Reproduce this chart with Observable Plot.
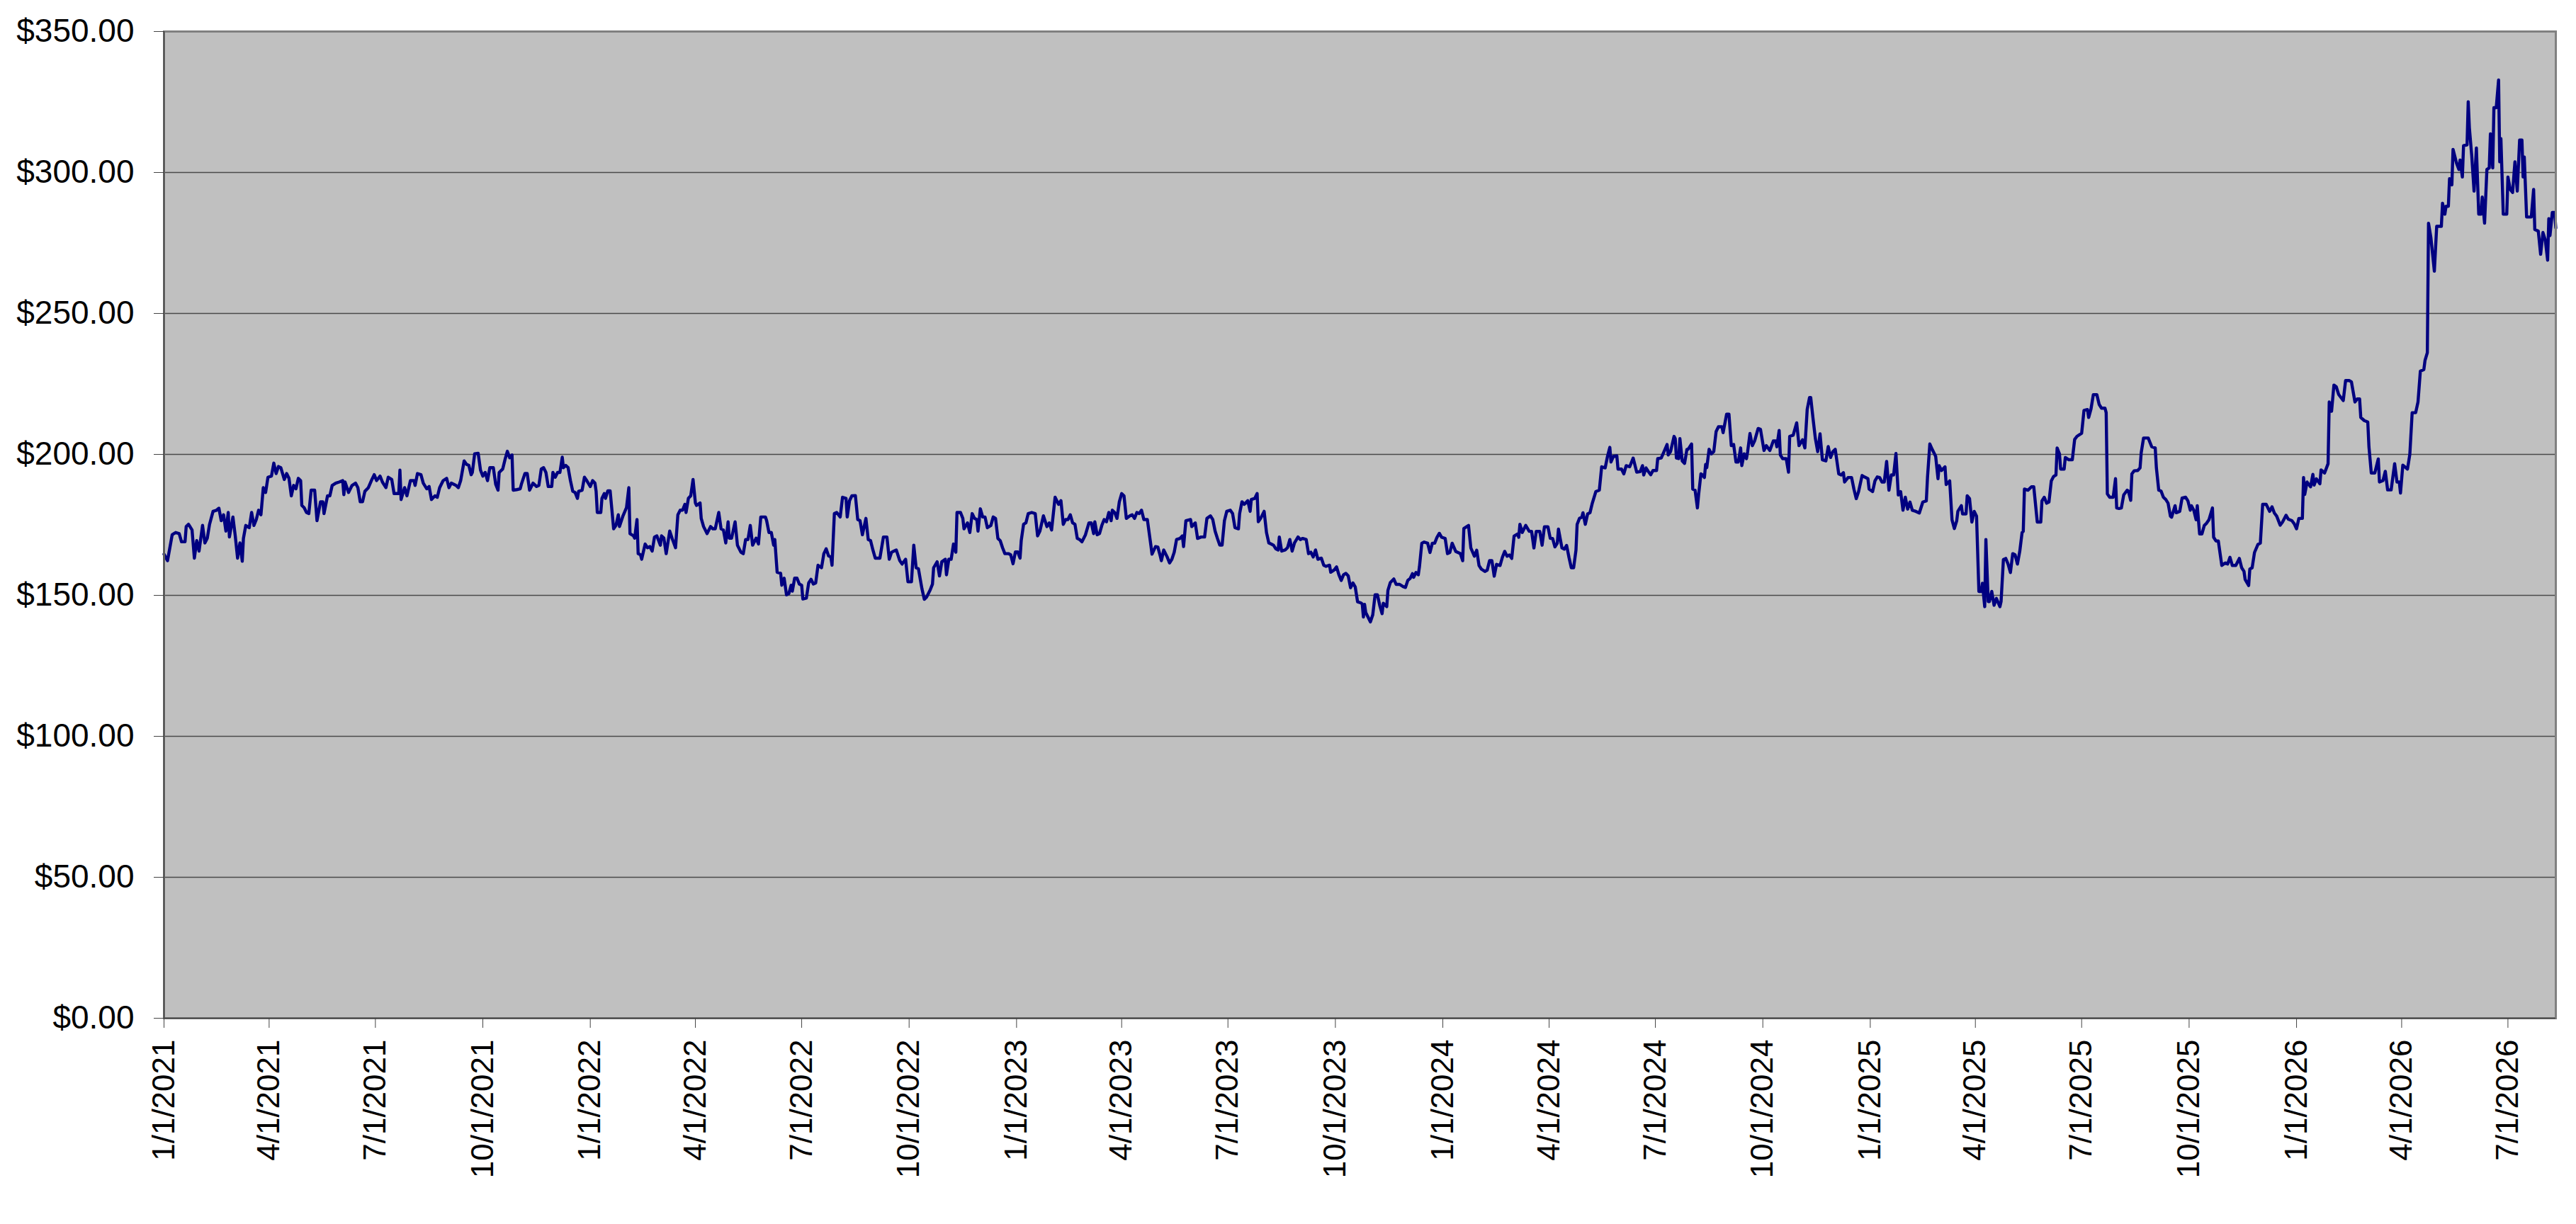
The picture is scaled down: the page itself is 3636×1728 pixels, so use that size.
<!DOCTYPE html>
<html>
<head>
<meta charset="utf-8">
<script src="https://cdn.jsdelivr.net/npm/d3@7"></script>
<script src="https://cdn.jsdelivr.net/npm/@observablehq/plot@0.6"></script>
<style>
  html, body { margin: 0; padding: 0; background: #ffffff; }
  #chart svg { display: block; }
</style>
</head>
<body>
<div id="chart"></div>
<script>
// Series start date; each value below is a day offset from this date.
const startDate = "2021-01-01";

const days = [
  0,3,7,10,13,15,18,19,21,24,26,28,30,33,35,37,39,42,45,47,49,51,53,55,56,59,61,63,65,67,68,70,73,75,77,79,81,83,85,87,89,92,94,96,98,100,
  103,105,107,109,111,113,115,117,118,120,122,124,126,129,130,131,134,136,137,140,142,144,147,150,153,154,155,158,161,164,166,168,170,172,175,178,180,182,185,187,190,192,195,197,201,202,203,206,208,211,214,215,217,220,222,225,227,229,232,234,236,239,242,244,246,250,252,
  254,257,259,261,263,264,266,269,271,273,275,277,279,282,284,286,287,290,292,294,296,298,299,302,305,306,309,311,313,316,319,321,323,325,327,329,332,333,335,337,339,341,342,344,346,348,350,352,354,355,358,360,362,365,367,369,370,371,374,375,377,378,380,382,385,387,389,390,393,396,398,399,
  402,403,405,406,408,409,412,414,416,418,420,422,425,426,428,430,433,435,438,440,442,444,446,447,449,451,453,455,456,459,460,462,465,468,470,472,475,477,479,481,483,484,486,489,491,494,496,498,500,502,504,507,509,511,515,
  516,518,520,522,523,525,528,529,531,533,535,537,538,540,542,544,546,547,550,552,554,556,558,560,563,565,567,569,571,572,574,576,579,581,584,585,587,589,592,594,596,598,601,603,605,607,609,613,616,619,621,623,625,627,630,632,635,637,640,642,644,646,649,651,653,656,658,659,662,664,666,669,670,672,674,676,678,679,682,684,685,688,690,692,694,696,697,699,701,703,705,708,710,712,714,716,718,720,723,725,727,729,731,733,734,736,738,740,743,746,748,750,753,756,758,760,763,766,768,
  770,772,774,776,778,780,782,784,786,789,792,794,796,797,799,801,803,805,807,809,811,812,814,816,818,820,822,824,827,829,831,833,835,837,839,842,845,846,849,851,853,854,856,859,861,863,865,867,870,872,873,875,879,880,883,885,888,891,893,896,898,900,902,904,906,908,910,913,915,917,920,921,923,925,928,930,931,934,936,937,939,942,944,946,948,950,952,954,955,957,960,962,964,966,968,971,973,975,978,980,982,984,986,988,991,993,995,998,999,1002,1004,1006,1008,1010,1012,1014,1016,1018,1020,1022,1025,1026,1027,
  1028,1029,1030,1033,1035,1037,1039,1041,1043,1044,1047,1048,1050,1053,1055,1058,1061,1063,1065,1067,1069,1070,1072,1074,1075,1077,1079,1082,1084,1086,1088,1090,1092,1094,1097,1099,1101,1103,1106,1108,1110,1112,1113,1117,1119,1122,1124,1126,1128,1131,1133,1135,1137,1139,1141,1144,1146,1148,1150,1152,1154,1156,1159,1160,1161,1163,1166,1169,1171,1173,1175,1178,1180,1182,1185,1187,1189,1191,1193,1194,1197,1199,1201,1203,1205,1207,1209,1210,1212,1214,1215,1217,1219,1221,1223,1226,1229,1231,1234,1236,1238,1239,1241,1244,1245,1248,1250,1252,1255,1258,1261,1264,1266,1267,1269,1271,1273,1275,1278,1279,1282,1284,1287,1288,
  1290,1293,1294,1295,1297,1298,1300,1302,1304,1305,1308,1309,1311,1313,1314,1316,1317,1319,1320,1321,1323,1325,1327,1329,1331,1334,1335,1338,1340,1342,1344,1346,1348,1350,1351,1353,1355,1356,1358,1360,1362,1365,1367,1370,1372,1375,1378,1380,1381,1383,1384,1386,1389,1391,1392,1395,1398,1400,1403,1405,1407,1409,1410,1412,1414,1416,1418,1420,1423,1425,1427,1429,1431,1434,1436,1438,1439,1442,1445,1447,1449,1451,1454,1456,1459,1460,1463,1465,1467,1469,1471,1473,1475,1477,1479,1481,1483,1485,1487,1489,1491,1493,1495,1497,1500,1503,1506,1509,1510,1512,1514,1517,1519,1520,1522,1525,1526,1529,1531,1533,1535,1536,1539,1540,1543,1544,
  1546,1548,1550,1552,1554,1556,1557,1559,1560,1562,1563,1565,1567,1569,1572,1573,1575,1577,1579,1581,1583,1585,1587,1589,1591,1592,1593,1596,1599,1601,1604,1607,1608,1610,1612,1614,1616,1618,1620,1621,1623,1624,1627,1628,1631,1634,1636,1638,1642,1644,1647,1648,1650,1652,1655,1657,1659,1662,1663,1664,1666,1669,1671,1672,1674,1676,1678,1681,1682,1684,1685,1687,1690,1692,1693,1695,1699,1702,1705,1706,1708,1710,1712,1714,1716,1718,1719,1722,1723,1726,1728,1731,1733,1735,1736,1738,1740,1741,1743,1745,1747,1749,1751,1754,1755,1757,1759,1762,1765,1767,1769,1771,1774,1777,1779,1781,1782,1785,1786,1788,1790,1793,1795,1797,1800,
  1803,1805,1807,1809,1812,1814,1817,1819,1822,1824,1826,1828,1831,1832,1833,1835,1838,1840,1841,1843,1846,1847,1850,1853,1854,1856,1858,1860,1862,1866,1868,1871,1873,1876,1878,1880,1881,1884,1887,1888,1890,1893,1896,1897,1900,1902,1904,1907,1910,1912,1914,1915,1917,1921,1923,1925,1928,1930,1932,1935,1936,1938,1939,1941,1944,1946,1950,1951,1953,1954,1956,1957,1959,1960,1963,1965,1966,1968,1969,1972,1973,1974,1976,1978,1980,1982,1984,1985,1987,1989,1991,1992,1994,1995,1997,1999,2000,2001,2003,2006,2007,2009,2011,2013,2015,2017,2019,2020,2021,2023,2027,2029,2030,2033,2035,2037,2039,2041,2042,2043,2045,2047,2048
];

const prices = [
  164.6,162.3,171.5,172.3,171.9,169,169,174.4,175.2,173.2,163.2,169.4,165.7,174.8,168.6,170.2,175.2,179.8,180.2,180.9,176.5,178.6,172.8,179.4,170.7,177.8,171.1,163.2,168.6,162.1,170.2,174.8,174,179.4,174.8,176.9,180.2,178.6,188.2,186.5,191.9,192.3,196.9,193.2,195.7,195.3,
  191.1,193.2,191.5,185.3,189,187.8,191.5,190.7,181.9,181.1,179.4,179,187.3,187.3,181.9,176.5,183.2,183.2,179,185.3,185.3,189,189.8,190.2,190.7,185.7,190.2,186.5,189,189.8,188.2,183.2,183.2,186.9,188.2,191.1,192.8,190.7,192.3,190.2,188.2,191.9,191.1,186.1,186.1,194.4,184,188.2,185.3,190.7,190.7,189,193.2,192.8,189.8,187.8,188.6,184,185.3,184.8,188.2,190.7,191.5,188.2,189.8,189,188.2,
  190.7,197.7,196.5,196.1,192.8,193.6,200.2,200.4,194.4,192.3,193.6,190.7,195.3,195.3,189.4,187.3,193.6,194.8,198.2,201.1,198.8,199.8,187.3,187.5,187.8,189.4,193.2,193.2,187.3,189.8,188.6,189,194.8,195.3,193.6,188.6,188.6,193.6,191.9,193.6,193.6,199,195.3,196.1,195.3,190.7,186.9,186.5,184.4,186.9,187.3,191.9,190.7,188.6,190.7,189.8,186.9,179.4,179.4,184.4,186.1,184.4,187.1,187.1,173.6,174.8,178.6,174.4,178.2,181.1,188.2,171.9,
  171.1,170.3,176.9,164.8,164.4,162.8,168.2,166.9,167.3,165.7,170.7,171.1,167.8,171.1,170.3,164.8,172.8,170.3,166.9,178.6,180.2,180.2,182.3,179.4,184.4,185.3,191.1,182.8,181.9,182.8,177.3,174.4,171.9,174.4,173.6,173.6,179.4,173.6,173.2,168.6,176.1,170.3,170.3,176.1,167.8,165.3,164.8,169.8,169.8,174.8,167.8,170.3,168.2,177.8,177.8,
  176.5,172.3,172.3,167.8,169.8,158.2,157.8,153.6,156.1,150.2,150.6,153.6,151.5,156.1,156.1,154,153.6,148.7,149,154.4,155.7,154,154.4,160.7,159.8,164.8,166.5,164,163.6,160.7,179,179.4,177.8,184.8,184.4,177.8,183.6,185.3,185.4,176.9,176.5,171.5,177.3,169.8,169.4,166.1,163.2,163.2,170.7,170.7,162.8,165.3,165.7,166.1,162.3,161.1,162.8,154.8,154.8,167.8,159.8,159.4,152.3,148.6,149.4,151.9,154,159.8,161.9,156.9,161.9,162.8,157.3,162.8,162.8,168.2,165.3,179.4,179.4,177.3,173.6,175.7,172.3,179,177.3,176.9,172.8,180.7,177.8,177.8,174,174.8,177.8,177.3,170.2,169.4,166.9,164.8,164.8,164.4,161.2,165.4,165.4,163.2,169.4,175.2,175.7,179,179.4,179,171.1,172.8,178.2,174.4,175.7,173.2,184.8,182.3,183.6,
  175.2,176.9,176.9,178.6,175.7,175.2,170.2,169.8,169,171.5,175.7,175.7,171.9,176.1,171.5,171.9,174.8,176.9,176.1,179.4,176.5,180.2,179.4,177.3,183.2,186.1,185.3,177.3,178.2,178.6,177.3,179.4,179,180.2,176.9,176.9,167.8,164.6,167.3,167.1,164,162.3,166.1,163.6,161.5,162.8,165.3,169.8,170.2,171.1,167.3,176.5,176.9,174.4,175.7,170.2,170.7,170.7,177.3,178.2,176.9,172.8,170.2,167.8,167.8,176.5,179.8,180.2,179,174,173.6,179,183.2,182.3,183.6,179.8,184,184.4,186.1,176.1,177.3,179.8,172.3,168.6,168.2,167.8,166.5,166.1,170.7,165.7,166.1,166.9,169.8,165.7,168.6,170.7,169.8,170.2,169.8,164.8,165.3,163.6,166.1,162.8,163.2,160.7,160.3,160.7,158.2,159,160.1,157.3,155.3,157.3,157.8,156.9,152.7,154.4,153,147.7,147.3,146.9,142.3,
  146.8,143.9,143.1,140.6,143.1,150.2,150.2,146.4,143.5,147.2,146,151.8,154.5,155.8,153.9,153.9,153.1,152.8,155.3,156,157.7,156.4,158.1,157.3,160.2,168.5,168.9,168.5,165.2,168.5,168.5,170.6,172,170.6,170.2,164.8,165.2,168.5,165.6,165.2,164.8,162.3,173.7,174.8,166.8,163.9,166,160.6,159.3,158.5,158.9,162.3,162.3,156.8,161,160.6,163.5,165.6,163.9,164.3,163.1,171,171.8,170.6,175.2,172.3,174.8,172.7,172.7,166.8,172.7,172.7,167.8,174.3,174.3,170.2,170.2,167.2,168.5,173.5,166.8,166.4,167.7,163.5,159.8,159.8,166,175.2,177.3,177.7,179.3,175.2,178.9,179.3,182.7,186.8,187.3,195.6,195.2,199.3,202.5,197.3,199.3,199.5,194.8,194.8,193.1,196,195.6,198.7,193.7,193.9,196,192.7,195.2,193.9,192.8,194.3,194.3,198.5,198.7,200.6,203.5,199.8,
  201,206.4,205.6,198.7,198.5,205.6,197.7,196.8,201.8,201.8,203.7,187.7,187.3,181,185.6,193.1,192.8,191.8,196.4,195.3,201.8,200.2,201,208.1,209.8,209.8,207.7,214.3,214.3,203.1,203.5,197.3,197.3,202.3,196,200.2,198.5,201,207.4,203.1,204.8,209.2,208.9,201.4,203.1,201.4,204.8,204.8,202.7,208.5,199.8,198.5,198.5,193.7,206.4,206.8,211.2,203.1,205.2,202.3,216,220.2,220.2,212.7,205.6,201,207.3,198.1,197.7,202.8,198.9,201,201.8,193.1,192.7,193.5,190.2,191.8,191.8,187.7,184.3,186.8,192.5,192,191.4,187.7,186.8,190.6,192,191.8,190.2,190.2,197.5,187.3,192.7,192.7,200.3,185.6,186.8,180.2,184.8,180.6,183.1,180.2,179.8,179.2,183.1,183.5,191.8,203.7,201.8,199.3,191.4,196,194.3,195.6,189.3,190.6,176.8,173.7,176.4,179.8,181.8,178.9,178.9,185.3,
  184.3,176,179.8,178.1,151.4,151.4,154.3,146,169.8,147.8,147.8,151.4,146.5,148.9,146,147.8,162.7,163.1,161.1,158.1,164.8,164.4,161.1,165.6,172.3,172.7,187.7,187.3,188.5,188.5,176,176,183.5,184.8,182.7,183.1,190.6,192.2,192.7,202.3,200.2,194.8,194.8,198.9,198.1,198.1,205.3,206.4,207.5,215.6,215.9,213.1,216.1,221.2,221.2,217.7,216.4,216.4,214.8,186,184.8,184.8,191.4,181,180.8,181,185.6,187.3,187,183.7,193.1,194.2,194.3,195.2,200.6,205.8,205.8,202.7,202.3,195.2,187.3,187,184.8,184,182.7,178.1,177.7,181.8,179.3,179.8,184.5,184.8,183.5,180.2,181.8,180.2,176.8,181.8,171.8,171.8,174.8,175.6,176.8,181,170.6,169.3,169.3,160.6,161.5,161.1,163.5,160.6,160.6,163.1,159.8,158.5,155.6,153.5,159.3,159.8,165.2,168.1,168.5,182.3,182.3,
  179.8,181.4,179.2,178.1,174.9,176,178.4,177,176.5,175.4,173.6,177.3,177.3,191.8,185.8,190.2,188.5,192.9,189.1,191.3,189.6,194.5,193.4,196.7,218.6,215.3,224.6,224,221.3,219.1,226.2,226.2,225.7,218.6,219.7,219.7,213.1,212,211.5,202.7,193.4,193.4,198.4,190.2,190.7,194,187.4,187.4,196.7,190.2,190.2,186.3,196.2,194.8,200,214.8,214.8,218.6,229.5,230.1,233.3,236.1,282,277,265,280.9,280.9,289.1,285.2,288,288,297.8,295.6,308.2,303.3,301.1,304.4,298.4,309.5,309.8,325.1,315.8,306,293.4,308.7,285.2,285.2,291.3,282,301.1,301.6,313.7,301.6,323,323,332.8,303.8,312,285.2,285.2,298.4,294,292.9,303.8,293.4,311.5,311.5,298.4,305.5,284.2,284.2,294,279.8,279.2,271,278.7,276,268.9,283.6,277.6,285.8,285.8,280.3
];

const xTickLabels = [
  "1/1/2021","4/1/2021","7/1/2021","10/1/2021",
  "1/1/2022","4/1/2022","7/1/2022","10/1/2022",
  "1/1/2023","4/1/2023","7/1/2023","10/1/2023",
  "1/1/2024","4/1/2024","7/1/2024","10/1/2024",
  "1/1/2025","4/1/2025","7/1/2025","10/1/2025",
  "1/1/2026","4/1/2026","7/1/2026"
];
const yTicks = [0, 50, 100, 150, 200, 250, 300, 350];

const start = d3.utcParse("%Y-%m-%d")(startDate);
const parseTick = d3.utcParse("%m/%d/%Y");
const series = days.map((d, i) => ({date: d3.utcDay.offset(start, d), price: prices[i]}));
const tickDates = xTickLabels.map(s => parseTick(s));
const tickFmt = d3.utcFormat("%-m/%-d/%Y");

const font = "'Liberation Sans', Arial, Helvetica, sans-serif";
const fsY = 46;
const fsX = 44;

const chart = Plot.plot({
  width: 3636,
  height: 1728,
  marginLeft: 231,
  marginRight: 29,
  marginTop: 44,
  marginBottom: 291,
  style: {fontFamily: font, fontSize: fsX + "px", color: "#000", background: "#fff", overflow: "visible"},
  x: {type: "utc", domain: [series[0].date, series[series.length - 1].date], label: null},
  y: {domain: [0, 350], label: null},
  marks: [
    Plot.frame({fill: "#C0C0C0", stroke: null}),
    Plot.gridY({ticks: yTicks, stroke: "#4a4a4a", strokeOpacity: 1, strokeWidth: 1.5}),
    Plot.line(series, {x: "date", y: "price", stroke: "#000080", strokeWidth: 4.4, strokeLinejoin: "round"}),
    Plot.frame({stroke: "#808080", strokeWidth: 3}),
    Plot.ruleY([0], {stroke: "#404040", strokeWidth: 1.5}),
    Plot.ruleX([series[0].date], {stroke: "#404040", strokeWidth: 1.5}),
    Plot.axisY({
      ticks: yTicks, tickSize: 14, tickPadding: 28, stroke: "#444", label: null,
      tickFormat: d => "$" + d.toFixed(2), fontSize: fsY, fill: "#000"
    }),
    Plot.axisX({ticks: tickDates, tickSize: 14, stroke: "#444", label: null, tickFormat: () => ""}),
    Plot.text(tickDates, {
      x: d => d, frameAnchor: "bottom", dy: 30, rotate: -90,
      textAnchor: "end", lineAnchor: "middle",
      text: d => tickFmt(d), fontSize: fsX, fill: "#000"
    })
  ]
});
document.getElementById("chart").appendChild(chart);
</script>
</body>
</html>
